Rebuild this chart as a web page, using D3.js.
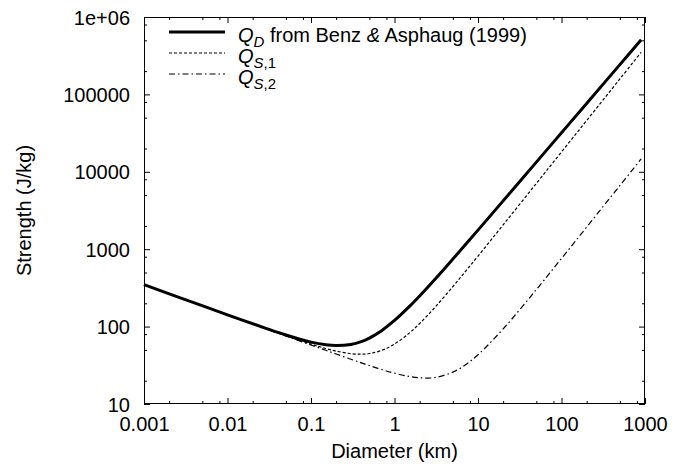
<!DOCTYPE html>
<html><head><meta charset="utf-8">
<script src="https://cdn.jsdelivr.net/npm/d3@7"></script>
<style>
body{margin:0;background:#fff}
text{font-family:"Liberation Sans",Arial,Helvetica,sans-serif;fill:#000}
</style>
</head><body>
<svg id="chart" width="688" height="467"></svg>
<script>
// ---- data ----
const diameters = [0.001,0.003,0.01,0.03,0.05,0.1,0.15,0.2,0.3,0.4,0.5,0.7,1,1.5,2,3,5,7,10,20,50,100,200,500,900];
const qD  = [348,227,142,93.5,77.9,63.0,58.1,56.8,58.7,64.0,71.1,88.5,120,181,249,400,745,1130,1764,4209,13335,31934,76433,242500,508600];
const qS1 = [348,227,142,92.6,76.3,59.3,52.1,48.2,44.7,44.0,44.9,49.2,59.5,82.3,109.7,173.8,329,509,815,2060,7079,18034,45963,158402,350200];
const qS2 = [348,227,142,92.3,75.7,57.8,49.4,44.3,37.9,34.0,31.4,27.9,25.0,22.7,21.8,21.9,25.8,31.8,43.3,93.3,301,759,1928,6635,14662];
const xTickValues = [0.001,0.01,0.1,1,10,100,1000];
const xTickLabels = ["0.001","0.01","0.1","1","10","100","1000"];
const yTickValues = [10,100,1000,10000,100000,1000000];
const yTickLabels = ["10","100","1000","10000","100000","1e+06"];
const minorMultipliers = [2,5,8];

// ---- layout ----
const L = 144, R = 645, T = 17, B = 404;
const FS = 20;
const svg = d3.select("#chart");
const x = d3.scaleLog().domain([0.001,1000]).range([L,R]);
const y = d3.scaleLog().domain([10,1e6]).range([B,T]);

const minors = (vals) => {
  const out = [];
  for (let i = 0; i < vals.length-1; i++) minorMultipliers.forEach(m => out.push(vals[i]*m));
  return out;
};
const xMinor = minors(xTickValues), yMinor = minors(yTickValues);

function styleAxis(g){
  g.select(".domain").remove();
  g.selectAll("line").attr("stroke","#000").attr("stroke-width",1);
  g.selectAll("text").attr("font-size",FS);
}
// bottom
svg.append("g").attr("transform",`translate(0,${B})`)
  .call(d3.axisBottom(x).tickValues(xTickValues).tickSize(-6).tickFormat((d,i)=>xTickLabels[i]))
  .call(styleAxis).call(g=>g.selectAll("text").attr("dy","0.71em").attr("y",13));
svg.append("g").attr("transform",`translate(0,${B})`)
  .call(d3.axisBottom(x).tickValues(xMinor).tickSize(-3).tickFormat(""))
  .call(styleAxis);
// top
svg.append("g").attr("transform",`translate(0,${T})`)
  .call(d3.axisTop(x).tickValues(xTickValues).tickSize(-6).tickFormat(""))
  .call(styleAxis);
svg.append("g").attr("transform",`translate(0,${T})`)
  .call(d3.axisTop(x).tickValues(xMinor).tickSize(-3).tickFormat(""))
  .call(styleAxis);
// left
svg.append("g").attr("transform",`translate(${L},0)`)
  .call(d3.axisLeft(y).tickValues(yTickValues).tickSize(-6).tickFormat((d,i)=>yTickLabels[i]))
  .call(styleAxis).call(g=>g.selectAll("text").attr("x",-14).attr("dy","0.35em"));
svg.append("g").attr("transform",`translate(${L},0)`)
  .call(d3.axisLeft(y).tickValues(yMinor).tickSize(-3).tickFormat(""))
  .call(styleAxis);
// right
svg.append("g").attr("transform",`translate(${R},0)`)
  .call(d3.axisRight(y).tickValues(yTickValues).tickSize(-6).tickFormat(""))
  .call(styleAxis);
svg.append("g").attr("transform",`translate(${R},0)`)
  .call(d3.axisRight(y).tickValues(yMinor).tickSize(-3).tickFormat(""))
  .call(styleAxis);

// frame
svg.append("rect").attr("x",L+0.5).attr("y",T+0.5).attr("width",R-L-1).attr("height",B-T-1)
  .attr("fill","none").attr("stroke","#000").attr("stroke-width",1);

// axis titles
svg.append("text").attr("x",(L+R)/2).attr("y",458).attr("text-anchor","middle").attr("font-size",FS).text("Diameter (km)");
svg.append("text").attr("transform",`translate(31,${(T+B)/2}) rotate(-90)`).attr("text-anchor","middle").attr("font-size",FS).text("Strength (J/kg)");

// curves
const styles = [
  {data:qD,  width:3,   dash:null},
  {data:qS1, width:1.2, dash:"3,2"},
  {data:qS2, width:1.2, dash:"6,3,1.5,3"}
];
const line = d3.line().x(d=>x(d[0])).y(d=>y(d[1])).curve(d3.curveCatmullRom.alpha(0.5));
styles.forEach(s=>{
  svg.append("path").datum(diameters.map((d,i)=>[d,s.data[i]]))
    .attr("d",line).attr("fill","none").attr("stroke","#000")
    .attr("stroke-width",s.width).attr("stroke-dasharray",s.dash);
});

// legend
const legendRows = [32,53,74];
const legendParts = [
  [["Q","i",0],["D","i",1],[" from Benz ","n",0],["&","i",0],[" Asphaug (1999)","n",0]],
  [["Q","i",0],["S","i",1],[",1","n",1]],
  [["Q","i",0],["S","i",1],[",2","n",1]]
];
styles.forEach((s,k)=>{
  const ly = legendRows[k];
  svg.append("line").attr("x1",169).attr("x2",225).attr("y1",ly).attr("y2",ly)
    .attr("stroke","#000").attr("stroke-width",s.width).attr("stroke-dasharray",s.dash);
  const t = svg.append("text").attr("x",238).attr("y",ly+10).attr("font-size",FS);
  let prevSub = 0;
  legendParts[k].forEach(([txt,st,sub])=>{
    const ts = t.append("tspan").text(txt)
      .attr("font-style",st==="i"?"italic":"normal");
    if (sub) ts.attr("font-size",15);
    if (sub!==prevSub) ts.attr("dy", sub? 5 : -5);
    prevSub = sub;
  });
});
</script>
</body></html>
